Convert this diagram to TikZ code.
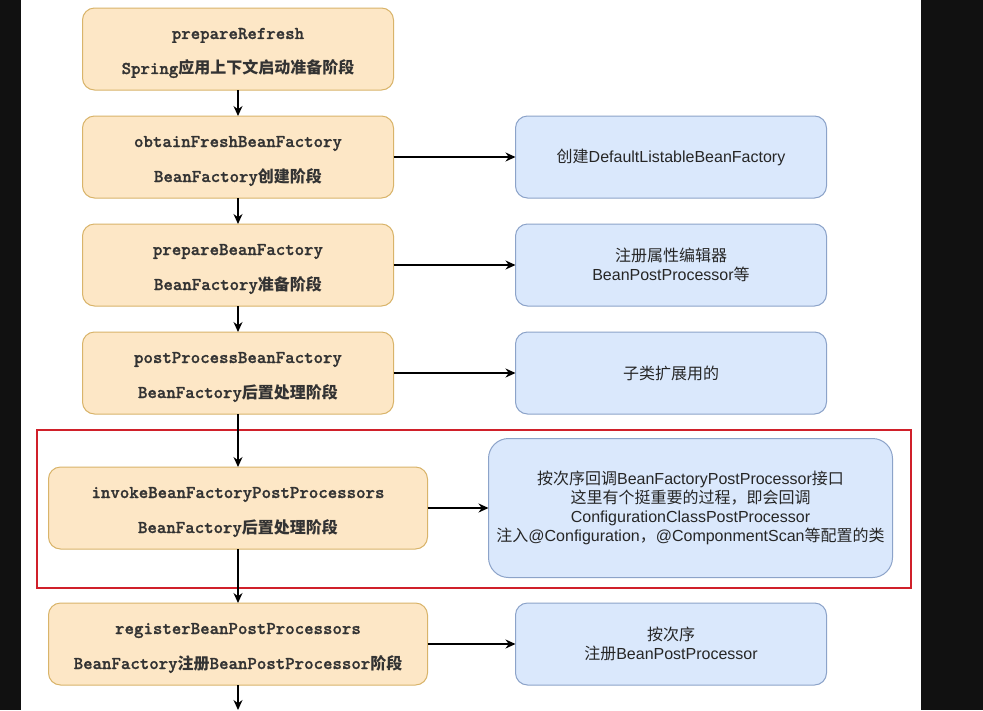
\documentclass[tikz,border=0pt]{standalone}
\usepackage{fontspec}
\setmainfont{Liberation Sans}
\setmonofont{lmmono10-regular.otf}[BoldFont=lmmonolt10-bold.otf, BoldFeatures={FakeBold=1.2}]
\newfontfamily\cjk{Noto Sans CJK SC}
\usetikzlibrary{arrows.meta, positioning}
\definecolor{sback}{HTML}{111111}
\definecolor{sorange}{HTML}{FDE7C6}
\definecolor{sorangeline}{HTML}{D9B46A}
\definecolor{sblue}{HTML}{DAE8FC}
\definecolor{sblueline}{HTML}{8CA3C9}
\definecolor{sred}{HTML}{D0202A}
\definecolor{stext}{HTML}{333333}
\newcommand{\zh}[1]{{\cjk\fontsize{16}{19}\selectfont #1}}
\newcommand{\lift}{\rule{0pt}{19pt}}
\tikzset{
  >={Stealth[length=10pt,width=9pt]},
  stage/.style={
    draw=sorangeline, fill=sorange, line width=1pt, outer sep=0pt,
    rounded corners=12pt, align=center, inner sep=2pt,
    minimum width=#1, minimum height=82pt, text=stext,
    font={\ttfamily\bfseries\fontsize{18}{35}\selectfont}
  },
  stage/.default=311pt,
  note/.style={
    draw=sblueline, fill=sblue, line width=1pt, outer sep=0pt,
    rounded corners=12pt, align=center, inner sep=2pt,
    minimum width=311pt, minimum height=82pt, text=black!85,
    font={\fontsize{16}{19}\selectfont}
  },
  flow/.style={->, line width=1.4pt, draw=black}
}
\begin{document}
\begin{tikzpicture}[x=1pt, y=-1pt]
  \useasboundingbox (0,0) rectangle (983,710);
  \fill[white] (0,0) rectangle (983,710);
  \fill[sback] (0,0) rectangle (21,710);
  \fill[sback] (921,0) rectangle (983,710);

  % left column: refresh stages
  \node[stage] (prep) at (238,49) {\lift prepareRefresh\\Spring\zh{应用上下文启动准备阶段}};
  \node[stage, below=26pt of prep] (obtain) {\lift obtainFreshBeanFactory\\BeanFactory\zh{创建阶段}};
  \node[stage, below=26pt of obtain] (prepbf) {\lift prepareBeanFactory\\BeanFactory\zh{准备阶段}};
  \node[stage, below=26pt of prepbf] (postbf) {\lift postProcessBeanFactory\\BeanFactory\zh{后置处理阶段}};
  \node[stage=379pt, below=53pt of postbf] (invoke) {\lift invokeBeanFactoryPostProcessors\\BeanFactory\zh{后置处理阶段}};
  \node[stage=379pt, below=54pt of invoke] (register) {\lift registerBeanPostProcessors\\BeanFactory\zh{注册}BeanPostProcessor\zh{阶段}};
  \coordinate (tail) at (238,710);

  % right column: what each stage does
  \node[note, right=122pt of obtain] (obtainnote) {\zh{创建}DefaultListableBeanFactory};
  \node[note, right=122pt of prepbf] (prepbfnote) {\zh{注册属性编辑器}\\BeanPostProcessor\zh{等}};
  \node[note, right=122pt of postbf] (postbfnote) {\zh{子类扩展用的}};
  \node[note, minimum width=404pt, minimum height=139pt, rounded corners=20pt,
        right=61pt of invoke] (invokenote)
    {\zh{按次序回调}BeanFactoryPostProcessor\zh{接口}\\
     \zh{这里有个挺重要的过程，即会回调}\\
     ConfigurationClassPostProcessor\\
     \zh{注入}@Configuration\zh{，}@ComponmentScan\zh{等配置的类}};
  \node[note, right=88pt of register] (registernote) {\zh{按次序}\\\zh{注册}BeanPostProcessor};

  % highlight frame
  \draw[sred, line width=2pt] (37,430) rectangle (911,588);

  \draw[flow] (prep) -- (obtain);
  \draw[flow] (obtain) -- (prepbf);
  \draw[flow] (prepbf) -- (postbf);
  \draw[flow] (postbf) -- (invoke);
  \draw[flow] (invoke) -- (register);
  \draw[flow] (register) -- (tail);
  \draw[flow] (obtain) -- (obtainnote);
  \draw[flow] (prepbf) -- (prepbfnote);
  \draw[flow] (postbf) -- (postbfnote);
  \draw[flow] (invoke) -- (invokenote);
  \draw[flow] (register) -- (registernote);
\end{tikzpicture}
\end{document}
